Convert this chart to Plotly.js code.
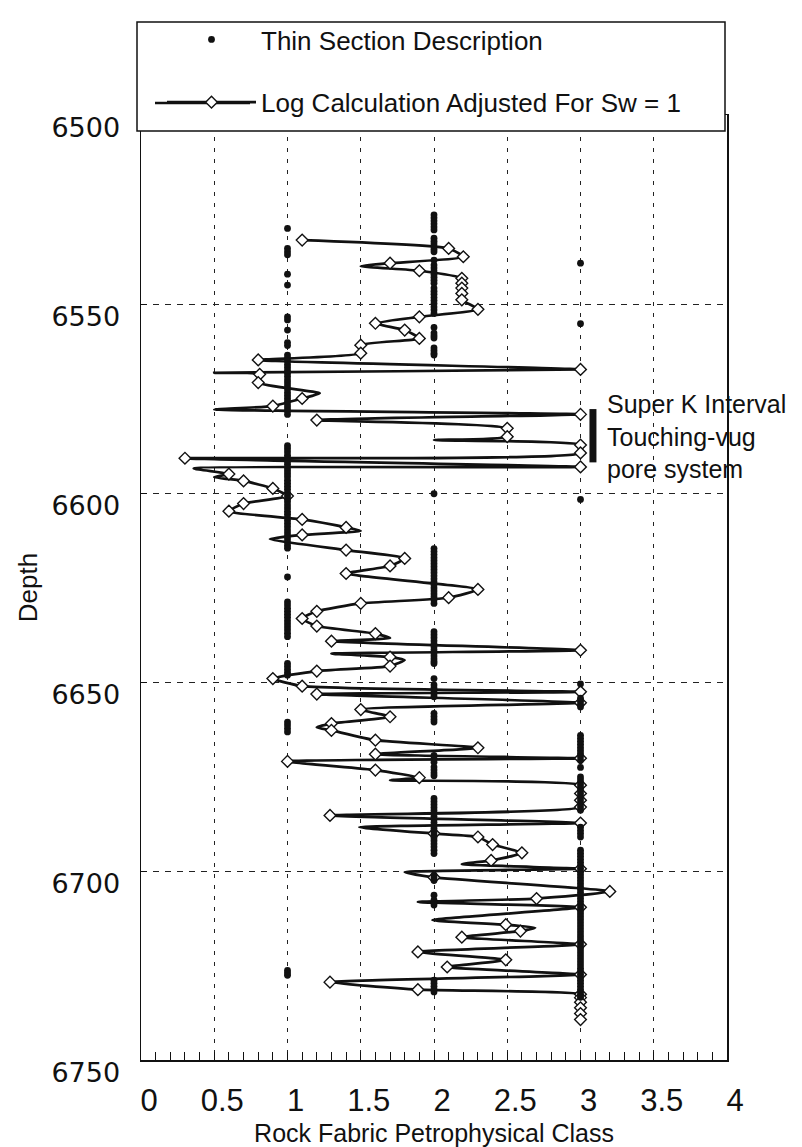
<!DOCTYPE html>
<html>
<head>
<meta charset="utf-8">
<script src="https://cdn.plot.ly/plotly-3.0.1.min.js"></script>
<style>html,body{margin:0;padding:0;background:#fff;}#chart{width:802px;height:1147px;}</style>
</head>
<body>
<div id="chart"></div>
<script>
// ---- Data ----
// Thin section description (class 1, 2, 3) depths
const thinDepthClass1 = [6530.0,6535.3,6536.2,6537.0,6542.1,6545.0,6553.4,6554.2,6556.9,6560.2,6561.0,
 6563.5,6564.3,6565.1,6566.0,6566.8,6567.6,6568.4,6569.2,6570.1,6570.9,6571.7,6572.5,6573.4,6574.2,6575.0,6575.8,6576.7,6577.5,6578.3,6579.2,
 6587.5,6588.3,6589.1,6590.0,6590.8,6591.6,6592.4,6593.3,6594.1,6594.9,6595.7,6596.6,6597.4,6598.2,6599.0,6599.9,6600.7,6601.5,6602.3,6603.2,6604.0,6604.8,6605.6,6606.5,6607.3,6608.1,6608.9,6609.8,6610.6,6611.4,6612.2,6613.1,6613.9,6614.6,
 6622.2,
 6628.8,6629.6,6630.5,6631.3,6632.1,6632.9,6633.8,6634.6,6635.4,6636.2,6637.1,6638.0,
 6645.1,6645.9,6646.7,6647.5,6648.2,
 6660.6,6661.4,6662.3,6663.2,
 6726.3,6727.0,6727.6];
const thinDepthClass2 = [6526.4,6527.2,6528.0,6528.8,6529.6,6530.4,
 6532.6,6533.4,6534.1,6534.9,6535.6,6536.2,
 6538.4,
 6539.7,6540.5,6541.3,6542.1,6542.9,6543.7,6544.5,
 6545.8,6546.6,6547.4,6548.3,6549.1,6549.9,6550.8,6551.6,6552.5,
 6556.2,
 6557.7,6558.4,6559.0,
 6561.6,6562.3,6563.0,6563.5,
 6600.2,
 6614.7,6615.5,6616.3,6617.1,6617.9,6618.7,6619.5,6620.3,6621.1,6621.9,6622.7,6623.5,6624.3,6625.1,6625.9,6626.7,6627.5,6628.3,6629.2,
 6636.7,6637.5,6638.3,6639.1,6639.9,6640.7,6641.5,6642.3,6643.1,6643.9,6644.6,6645.1,
 6649.1,
 6650.8,6651.6,6652.4,6653.2,6653.9,
 6658.3,6659.1,6659.9,6660.6,
 6669.4,6670.3,6671.2,
 6672.5,6673.3,6674.1,6674.8,
 6680.8,6681.6,6682.4,6683.2,6684.0,6684.8,6685.6,6686.4,6687.2,6688.0,6688.8,6689.6,6690.4,6691.2,6692.0,6692.8,6693.6,6694.5,6695.4,
 6701.1,6701.8,6702.5,
 6706.4,
 6707.7,6708.4,6709.0,
 6728.9,6729.7,6730.5,6731.3,6732.0];
const thinDepthClass3 = [6539.2,6555.2,6601.7,6650.5,
 6654.3,6655.1,6655.9,6656.6,
 6664.1,6664.9,6665.7,6666.5,6667.3,6668.1,6668.9,6669.7,6670.7,
 6672.6,
 6675.1,6675.9,6676.7,6677.5,6678.3,6679.1,6679.9,6680.7,6681.5,6682.3,6683.1,6683.9,
 6688.4,6689.3,6690.1,6691.0,
 6694.5,6695.3,6696.1,6696.9,6697.7,6698.5,6699.3,6700.1,6700.9,6701.7,6702.5,6703.3,6704.1,6704.9,6705.7,6706.5,6707.3,6708.1,6708.9,6709.7,6710.5,6711.3,6712.1,6712.9,6713.7,6714.5,6715.3,6716.1,6716.9,6717.7,6718.5,6719.3,6720.1,6720.9,6721.7,6722.5,6723.3,6724.1,6724.9,6725.7,6726.5,6727.3,6728.1,6728.9,6729.7,6730.5,6731.3,6732.1,6732.9,6733.4];

// Log calculation samples (diamonds)
const logDepth = [6533.1,6535.3,6537.5,6539.2,6541.2,6543.2,6544.5,6545.8,6547.2,6548.9,6551.4,6553.4,6555.1,6556.9,6559.1,6560.9,6563.0,6564.8,6567.3,6568.6,6570.8,6575.0,6577.0,6579.2,6580.7,6582.9,6585.1,6587.3,6589.4,6590.8,6593.1,6595.0,6596.8,6598.8,6600.8,6602.8,6604.8,6607.0,6609.1,6611.1,6615.1,6617.3,6619.3,6621.3,6625.5,6627.7,6629.2,6631.3,6633.2,6635.2,6637.2,6639.2,6641.6,6643.4,6645.8,6647.1,6649.1,6651.1,6652.6,6653.2,6655.5,6657.3,6659.2,6661.0,6662.8,6665.4,6667.4,6669.1,6670.2,6671.0,6673.3,6675.3,6677.3,6679.5,6681.3,6683.1,6685.3,6687.3,6690.1,6691.0,6693.0,6695.2,6697.2,6699.4,6701.7,6705.4,6707.3,6709.6,6714.2,6715.9,6717.5,6719.4,6721.4,6723.5,6725.4,6727.4,6729.4,6731.4,6732.6,6733.5,6734.7,6736.2,6737.7,6739.3];
const logClass = [1.10,2.10,2.20,1.70,1.90,2.19,2.19,2.19,2.19,2.19,2.30,1.90,1.60,1.80,1.90,1.50,1.50,0.80,3.00,0.81,0.80,1.10,0.90,3.00,1.20,2.50,2.50,3.00,3.00,0.30,3.00,0.60,0.70,0.90,1.00,0.70,0.60,1.10,1.40,1.10,1.40,1.80,1.70,1.40,2.30,2.10,1.50,1.20,1.10,1.20,1.60,1.30,3.00,1.70,1.70,1.20,0.90,1.10,3.00,1.20,3.00,1.50,1.70,1.30,1.30,1.60,2.30,1.60,3.00,1.00,1.60,1.90,3.00,3.00,3.00,3.00,1.29,3.00,2.00,2.30,2.40,2.60,2.39,3.00,2.00,3.20,2.70,3.00,2.49,2.59,2.19,3.00,1.89,2.49,2.09,3.00,1.29,1.89,3.00,3.00,3.00,3.00,3.00,3.00];
// Turning points of the drawn (smoothed) curve between samples
const curveTipDepth = [6540.0,6568.2,6573.6,6577.9,6586.0,6593.5,6595.8,6610.0,6612.2,6638.4,6642.5,6644.2,6662.0,6676.0,6688.4,6698.2,6700.3,6708.2,6713.0,6715.0];
const curveTipClass = [1.50,0.50,1.22,0.50,2.00,0.36,0.50,1.50,0.88,1.70,1.30,1.80,1.20,1.70,1.49,2.19,1.80,1.89,1.99,2.69];

const xTickVals = [0,0.5,1,1.5,2,2.5,3,3.5,4];
const yTickVals = [6500,6550,6600,6650,6700,6750];
const superK = {top: 6577.8, bottom: 6591.9};

// ---- Build traces ----
function repeat(v, n){ const a=[]; for(let i=0;i<n;i++) a.push(v); return a; }
const thinX = [].concat(repeat(1,thinDepthClass1.length), repeat(2,thinDepthClass2.length), repeat(3,thinDepthClass3.length));
const thinY = [].concat(thinDepthClass1, thinDepthClass2, thinDepthClass3);

const curvePts = logDepth.map((d,i)=>[d,logClass[i]]).concat(curveTipDepth.map((d,i)=>[d,curveTipClass[i]]));
curvePts.sort((a,b)=>a[0]-b[0]);

const lineStyle = {color:'#111', width:2.7};
const diamondMarker = {symbol:'diamond', size:9, color:'#fff', line:{color:'#111', width:1.4}};

const traces = [
  {x: curvePts.map(p=>p[1]), y: curvePts.map(p=>p[0]), mode:'lines', line: Object.assign({shape:'spline', smoothing:0.5}, lineStyle),
   showlegend:false, hoverinfo:'skip'},
  {x: logClass, y: logDepth, mode:'markers', marker: diamondMarker, showlegend:false, name:'Log Calculation Adjusted For Sw = 1'},
  {x: thinX, y: thinY, mode:'markers', name:'Thin Section Description', legendgroup:'a',
   marker:{symbol:'circle', size:6.8, color:'#111'}},
  {x:[null], y:[null], mode:'lines+markers', name:'Log Calculation Adjusted For Sw = 1', legendgroup:'b',
   line: lineStyle, marker: diamondMarker}
];

const W = 802, H = 1147, L = 141, R = 75, T = 115, B = 87;
const pw = W-L-R, ph = H-T-B;
const px = v => (v - L)/pw;           // pixel x -> paper
const py = v => (H - B - v)/ph;       // pixel y -> paper

const layout = {
  width: W, height: H,
  margin: {l:L, r:R, t:T, b:B, pad:0},
  paper_bgcolor:'#fff', plot_bgcolor:'#fff',
  font: {family:'Liberation Sans, Arial, sans-serif', color:'#111'},
  showlegend: true,
  legend: {x: px(162), y: py(16), xanchor:'left', yanchor:'top', bgcolor:'rgba(0,0,0,0)', borderwidth:0,
           font:{size:26, family:'Liberation Sans, Arial, sans-serif', color:'#111'},
           traceorder:'grouped', tracegroupgap: 26, itemwidth: 89},
  xaxis: {
    range:[0,4], tickvals: xTickVals, ticktext: xTickVals.map(String),
    showgrid:true, gridcolor:'#222', gridwidth:1, griddash:'4px,7px',
    zeroline:false, showline:true, mirror:true, linecolor:'#111', linewidth:1.5,
    ticks:'inside', ticklen:8, tickcolor:'#111', tickwidth:1,
    minor:{dtick:0.1, tick0:0, ticks:'inside', ticklen:8, tickcolor:'#111', tickwidth:1, showgrid:false},
    tickfont:{size:31, family:'Liberation Sans Narrow, Arial Narrow, Liberation Sans, Arial, sans-serif', color:'#111'},
    ticklabelstandoff: 12, ticklabelshift: 8,
    title:{text:'Rock Fabric Petrophysical Class', font:{size:25, color:'#111'}, standoff: 8},
    fixedrange:true
  },
  yaxis: {
    range:[6750,6500], tickvals: yTickVals, ticktext: yTickVals.map(String),
    showgrid:true, gridcolor:'#222', gridwidth:1, griddash:'6px,6px',
    zeroline:false, showline:true, mirror:true, linecolor:'#111', linewidth:1.5,
    ticks:'inside', ticklen:6, tickcolor:'#111',
    tickfont:{size:27, family:'DejaVu Sans, sans-serif', color:'#111'},
    ticklabelstandoff: 14, ticklabelshift: -13,
    title:{text:'Depth', font:{size:26, color:'#111'}, standoff: 6},
    fixedrange:true
  },
  shapes: [
    // legend frame
    {type:'rect', xref:'paper', yref:'paper', x0:px(137), x1:px(725), y0:py(131), y1:py(22),
     line:{color:'#111', width:1.5}, fillcolor:'#fff', layer:'above'},
    // long legend line for the log-calculation entry
    {type:'line', xref:'paper', yref:'paper', x0:px(155), x1:px(250), y0:py(103), y1:py(103),
     line:{color:'#111', width:2.7}, layer:'above'},
    // Super K interval bar
    {type:'line', xref:'x', yref:'y', x0:3.085, x1:3.085, y0:superK.top, y1:superK.bottom,
     line:{color:'#111', width:7}, layer:'above'}
  ],
  annotations: [
    {xref:'x', yref:'y', x:3.17, y:6585.1, xanchor:'left', yanchor:'middle', align:'left', showarrow:false,
     text:'Super K Interval<br>Touching-vug<br>pore system', font:{size:25, color:'#111'}}
  ]
};

Plotly.newPlot('chart', traces, layout, {displayModeBar:false, staticPlot:true});
</script>
</body>
</html>
